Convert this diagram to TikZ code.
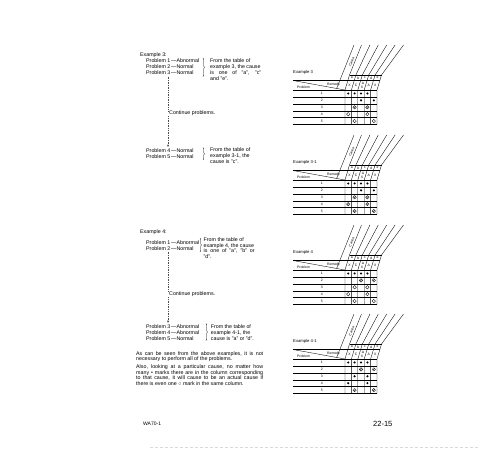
\documentclass[tikz,border=0pt]{standalone}
\usepackage{fontspec}
\setmainfont{Liberation Sans}
\usetikzlibrary{arrows.meta,decorations.pathreplacing}

\tikzset{
  txt/.style={anchor=north west, inner sep=0pt, align=left, font=\fontsize{5.3}{6}\selectfont},
  ptxt/.style={txt, font=\fontsize{5.3}{5.8}\selectfont},
  ttl/.style={anchor=west, inner sep=0pt, font=\fontsize{4.2}{5}\selectfont},
  tsml/.style={inner sep=0pt, font=\fontsize{3.4}{4}\selectfont},
  tline/.style={line width=0.35pt},
  dotm/.style={circle, fill, inner sep=0pt, minimum size=2.3pt},
  cirm/.style={circle, draw, line width=0.3pt, inner sep=0pt, minimum size=3.4pt},
  crsm/.style={cirm, path picture={\draw[line width=0.3pt] (path picture bounding box.south west) -- (path picture bounding box.north east);}},
  dashln/.style={line width=0.25pt, black!70, dash pattern=on 0.6pt off 1.1pt},
  brc/.style={decorate, decoration={brace, amplitude=1.4pt}, line width=0.3pt}
}

% remedy table: #1 = top of grid, #2 = title, #3 = marks (column/row/kind)
\newcommand{\remtable}[3]{%
  \node[ttl] (tt) at (293,#1-18) {#2};
  \draw[tline] (293,#1-9.5) -- (379.85,#1-9.5);
  \draw[tline] (349.5,#1-15) -- (381.5,#1-15);
  \draw[tline] (293,#1-9.5) -- (345,#1);
  \draw[tline] (336.6,#1-1.5) -- (354,#1-45);
  \foreach \i in {0,...,5}
    \draw[tline] ({345+6.4*\i},#1+34.5) -- ({345+6.4*\i},#1) -- ({349.5+6.4*\i},#1-15) -- ({361.5+8.4*\i},#1-45);
  \foreach \k in {0,...,5}
    \draw[tline] (293,{#1+6.9*\k}) -- (377,{#1+6.9*\k});
  \node[tsml, rotate=68] (cs) at (351.6,#1-28) {Cause};
  \node[tsml] (rm) at (333.5,#1-5.5) {Remedy};
  \node[tsml] (pb) at (303.5,#1-2.6) {Problem};
  \foreach \l [count=\i from 0] in {a,b,c,d,e}
    \node[tsml] (l\l) at ({351.9+6.4*\i},#1-12.2) {\l};
  \node[tsml] (r1) at (349.6,#1-4.75) {X};
  \node[tsml] (r2) at (356.0,#1-4.75) {C};
  \node[tsml] (r3a) at (363.1,#1-7) {Δ};
  \node[tsml] (r3b) at (361.9,#1-2.8) {X};
  \node[tsml] (r4) at (368.8,#1-4.75) {A};
  \node[tsml] (r5) at (375.2,#1-4.75) {X};
  \foreach \k in {1,...,5}
    \node[tsml] (n\k) at (321.7,{#1+6.9*(\k-0.5)}) {\k};
  \foreach \c/\r/\t in {#3}
    \node[\t] (m\c\r) at ({345+6.4*(\c-0.5)},{#1+6.9*(\r-0.5)}) {};
}

\begin{document}
\begin{tikzpicture}[x=1pt,y=1pt,yscale=-1,xscale=1]
\fill[white] (0,0) rectangle (500,450);
\useasboundingbox (0,0) rectangle (500,450);

% example 3
\draw (140,52.9) node [txt] (ex3) {Example 3:};
\draw (146,58.9) node [txt] (pa) {Problem 1\,—Abnormal\\Problem 2\,—Normal\\Problem 3\,—Normal};
\draw [brc] (203,58) -- (203,76.5);
\draw (210,58.9) node [txt] (fa) {From the table of\\example 3, the cause\\\makebox[51pt][s]{is one of "a", "c"}\\and "e".};
\coordinate (d1) at (168,76.5);
\coordinate (d2) at (168,147);
\draw (169,110.9) node [txt] (ca) {Continue problems.};
\draw [dashln] (d1) -- (d1 |- ca.north);
\draw [dashln,-{Stealth[length=2.4pt,width=1.8pt]}] (d1 |- ca.south) -- (d2);

% example 3-1
\draw (146,148.2) node [txt] (pb) {Problem 4\,—Normal\\Problem 5\,—Normal};
\draw [brc] (203,147.5) -- (203,160);
\draw (210,147.9) node [txt] (fb) {From the table of\\example 3-1, the\\cause is "c".};

% example 4
\draw (140,229.2) node [txt] (ex4) {Example 4:};
\draw (146,240.5) node [txt] (pc) {Problem 1\,—Abnormal\\Problem 2\,—Normal};
\draw [brc] (200,238) -- (200,252);
\draw (203.5,237.9) node [txt, font=\fontsize{5.3}{5.5}\selectfont] (fc) {From the table of\\example 4, the cause\\\makebox[51pt][s]{is one of "a", "b" or}\\"d".};
\coordinate (d3) at (168,251.5);
\coordinate (d4) at (168,322.8);
\draw (169,291.9) node [txt] (cb) {Continue problems.};
\draw [dashln] (d3) -- (d3 |- cb.north);
\draw [dashln,-{Stealth[length=2.4pt,width=1.8pt]}] (d3 |- cb.south) -- (d4);

% example 4-1
\draw (146,324.6) node [txt] (pd) {Problem 3\,—Abnormal\\Problem 4\,—Abnormal\\Problem 5\,—Normal};
\draw [brc] (206,323.5) -- (206,340.5);
\draw (210.7,324.6) node [txt] (fd) {From the table of\\example 4-1, the\\cause is "a" or "d".};

% closing text
\draw (136,351) node [ptxt] (ta) {\makebox[127pt][s]{As can be seen from the above examples, it is not}\\necessary to perform all of the problems.};
\draw (136,364.2) node [ptxt] (tb) {\makebox[127pt][s]{Also, looking at a particular cause, no matter how}\\\makebox[127pt][s]{many • marks there are in the column corresponding}\\\makebox[127pt][s]{to that cause, it will cause to be an actual cause if}\\there is even one ○ mark in the same column.};

% tables
\remtable{90}{Example 3}{1/1/dotm,2/1/dotm,3/1/dotm,4/1/dotm,3/2/dotm,5/2/dotm,2/3/crsm,4/3/crsm,1/4/cirm,4/4/cirm,2/5/cirm,5/5/cirm}
\remtable{180}{Example 3-1}{1/1/dotm,2/1/dotm,3/1/dotm,4/1/dotm,3/2/dotm,5/2/dotm,2/3/crsm,4/3/crsm,1/4/crsm,4/4/crsm,2/5/crsm,5/5/crsm}
\remtable{270}{Example 4}{1/1/dotm,2/1/dotm,3/1/dotm,4/1/dotm,3/2/crsm,5/2/crsm,2/3/cirm,4/3/cirm,1/4/cirm,4/4/cirm,2/5/cirm,5/5/cirm}
\remtable{359}{Example 4-1}{1/1/dotm,2/1/dotm,3/1/dotm,4/1/dotm,3/2/crsm,5/2/crsm,2/3/dotm,4/3/dotm,1/4/dotm,4/4/dotm,2/5/crsm,5/5/crsm}

% footer
\draw (143,423.3) node [anchor=west, inner sep=0pt, font=\fontsize{5}{6}\selectfont] (wa) {WA70-1};
\draw (373,424) node [anchor=west, inner sep=0pt, font=\fontsize{7.5}{9}\selectfont] (pg) {22-15};
\draw [black!15, line width=0.4pt, dash pattern=on 3pt off 2pt] (150,447) -- (480,447);

\end{tikzpicture}
\end{document}
